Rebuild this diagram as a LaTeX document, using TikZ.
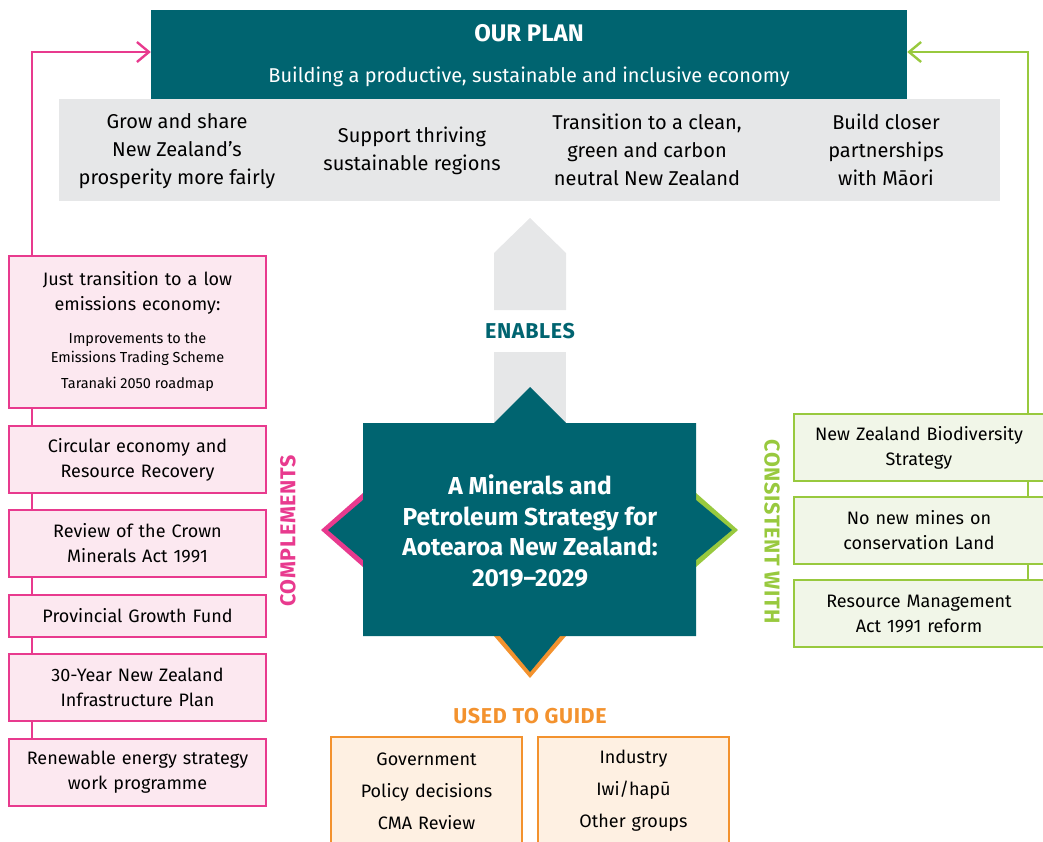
\documentclass[tikz,border=0pt]{standalone}
\usepackage{fontspec}
\setmainfont{Fira Sans}
\newfontfamily\tagfont[LetterSpace=3.0]{Fira Sans}
\usetikzlibrary{arrows.meta}

\definecolor{planteal}{RGB}{0,100,112}
\definecolor{goalgray}{RGB}{230,231,232}
\definecolor{comppink}{RGB}{232,58,142}
\definecolor{comppinkbg}{RGB}{252,232,240}
\definecolor{conslime}{RGB}{152,201,62}
\definecolor{conslimebg}{RGB}{241,246,232}
\definecolor{guideorange}{RGB}{243,146,46}
\definecolor{guideorangebg}{RGB}{254,240,226}

\begin{document}
\begin{tikzpicture}[
        x=1pt, y=-1pt, % координаты в пикселях
        boxtext/.style = {font=\fontsize{18}{25}\selectfont, align=center, inner sep=0pt},
        goaltext/.style = {font=\fontsize{20}{28}\selectfont, align=center},
        tag/.style = {font=\tagfont\fontsize{21.5}{24}\selectfont\bfseries}, % подписи
        compbox/.style = {boxtext, draw=comppink, fill=comppinkbg, line width=2.2pt,
                minimum width=257pt, text width=250pt},
        consbox/.style = {boxtext, draw=conslime, fill=conslimebg, line width=2.2pt,
                minimum width=250pt, text width=244pt, minimum height=67pt},
        guidebox/.style = {boxtext, draw=guideorange, fill=guideorangebg, line width=2.2pt,
                minimum width=191pt, text width=185pt, minimum height=108pt,
                font=\fontsize{18}{32}\selectfont},
        compline/.style = {draw=comppink, line width=2.4pt},
        consline/.style = {draw=conslime, line width=2.4pt},
        chevron/.style = {-{Straight Barb[length=12pt, width=20pt]}},
    ]
    \useasboundingbox (0,0) rectangle (1043,841);
    \clip (0,0) rectangle (1043,841);

    % наш план
    \node[fill=goalgray, minimum width=941pt, minimum height=102pt] (goals) at (529.5,150) {};
    \node[fill=planteal, minimum width=756pt, minimum height=89pt] (plan) at (529,54.5) {};
    \node[text=white, font=\fontsize{24}{28}\selectfont\bfseries] (plantitle) at (529,33) {OUR PLAN};
    \node[text=white, font=\fontsize{20}{24}\selectfont] (plansub) at (529,77)
        {Building a productive, sustainable and inclusive economy};
    \node[goaltext] (goal1) at (177,151) {Grow and share\\New Zealand’s\\prosperity more fairly};
    \node[goaltext] (goal2) at (412,151) {Support thriving\\sustainable regions};
    \node[goaltext] (goal3) at (647,150) {Transition to a clean,\\green and carbon\\neutral New Zealand};
    \node[goaltext] (goal4) at (886,150) {Build closer\\partnerships\\with Māori};

    % стрелка ENABLES
    \fill[goalgray] (494,310) -- (494,253) -- (530,218) -- (566,253) -- (566,310) -- cycle;
    \fill[goalgray] (494,352) rectangle (566,423);
    \node[tag, text=planteal] (enables) at (530,331) {ENABLES};

    % стратегия
    \fill[comppink] (363,493) -- (321,530) -- (363,567) -- cycle;
    \fill[conslime] (696,493) -- (738,530) -- (696,567) -- cycle;
    \fill[guideorange] (494,636) -- (530,678) -- (566,636) -- cycle;
    \fill[planteal] (363,423) -- (494,423) -- (530,387) -- (566,423) -- (696,423)
        -- (696,500) -- (732,530) -- (696,560) -- (696,636) -- (560,636) -- (530,672)
        -- (500,636) -- (363,636) -- (363,560) -- (328,530) -- (363,500) -- cycle;
    \node[text=white, align=center, font=\fontsize{24.5}{30.5}\selectfont\bfseries] (strategy) at (530,531)
        {A Minerals and\\Petroleum Strategy for\\Aotearoa New Zealand:\\2019--2029};

    % дополняет
    \node[compbox, minimum height=152pt] (just) at (137.5,332) {Just transition to a low\\emissions economy:\par
        \vspace{14pt}{\fontsize{14.5}{19}\selectfont\spaceskip=\fontdimen2\font\relax
        Improvements to the\\Emissions Trading Scheme\par
        \vspace{7pt}Taranaki 2050 roadmap\par}};
    \node[compbox, minimum height=67pt] (circ) at (137.5,459.5) {Circular economy and\\Resource Recovery};
    \node[compbox, minimum height=67pt] (crown) at (137.5,543.5) {Review of the Crown\\Minerals Act 1991};
    \node[compbox, minimum height=42pt] (pgf) at (137.5,616) {Provincial Growth Fund};
    \node[compbox, minimum height=67pt] (infra) at (137.5,687.5) {30-Year New Zealand\\Infrastructure Plan};
    \node[compbox, minimum height=67pt] (renew) at (137.5,772.5) {Renewable energy strategy\\work programme};
    \node[tag, text=comppink, rotate=90] (complements) at (288,531) {COMPLEMENTS};

    \coordinate (pinkspine) at (32,0);
    \draw[compline] (just.south -| pinkspine) -- (circ.north -| pinkspine);
    \draw[compline] (circ.south -| pinkspine) -- (crown.north -| pinkspine);
    \draw[compline] (crown.south -| pinkspine) -- (pgf.north -| pinkspine);
    \draw[compline] (pgf.south -| pinkspine) -- (infra.north -| pinkspine);
    \draw[compline] (infra.south -| pinkspine) -- (renew.north -| pinkspine);
    \draw[compline, chevron] (just.north -| pinkspine) |- ([yshift=2.5pt]plan.west);

    % согласуется с
    \node[consbox] (bio) at (919,447.5) {New Zealand Biodiversity\\Strategy};
    \node[consbox] (nomines) at (919,530.5) {No new mines on\\conservation Land};
    \node[consbox] (rma) at (919,613.5) {Resource Management\\Act 1991 reform};
    \node[tag, text=conslime, rotate=-90] (consistent) at (772,532) {CONSISTENT WITH};

    \coordinate (limespine) at (1028,0);
    \draw[consline] (bio.south -| limespine) -- (nomines.north -| limespine);
    \draw[consline] (nomines.south -| limespine) -- (rma.north -| limespine);
    \draw[consline, chevron] (bio.north -| limespine) |- ([yshift=2.5pt]plan.east);

    % используется для
    \node[tag, text=guideorange] (guide) at (530,716) {USED TO GUIDE};
    \node[guidebox] (gov) at (426.5,791) {Government\\Policy decisions\\CMA Review};
    \node[guidebox] (industry) at (633.5,791) {Industry\\Iwi/hapū\\Other groups};
\end{tikzpicture}
\end{document}
